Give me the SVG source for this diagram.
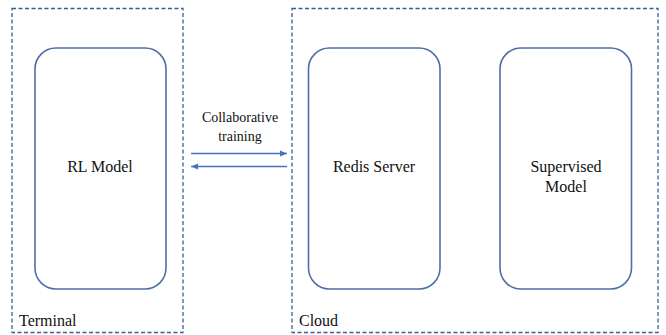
<svg xmlns="http://www.w3.org/2000/svg" width="666" height="335" viewBox="0 0 666 335">
<defs>
<style>
.grp{fill:none;stroke:#3A5C9A;stroke-width:1.3;stroke-dasharray:4 2.5}
.node{fill:#fff;stroke:#4F6EA8;stroke-width:1.6}
.t{font-family:'Liberation Serif','Times New Roman',serif;fill:#111;text-anchor:middle}
.lbl{font-family:'Liberation Serif','Times New Roman',serif;fill:#111;font-size:16px}
.edge{stroke:#4472C4;stroke-width:1.3;fill:none}
</style>
<marker id="ah" markerWidth="8" markerHeight="8" refX="7" refY="4" orient="auto" markerUnits="userSpaceOnUse">
<path d="M0,1 L7,4 L0,7 Z" fill="#4472C4"/>
</marker>
</defs>
<rect width="666" height="335" fill="#fff"/>
<g id="terminal">
<rect class="grp" x="12" y="8.5" width="171" height="324"/>
<text class="lbl" x="19" y="326">Terminal</text>
</g>
<g id="cloud">
<rect class="grp" x="292" y="8.5" width="366" height="324"/>
<text class="lbl" x="299" y="326">Cloud</text>
</g>
<g id="rl-model">
<rect class="node" x="35" y="48" width="131" height="241" rx="21"/>
<text class="t" x="100" y="172" font-size="16">RL Model</text>
</g>
<g id="redis-server">
<rect class="node" x="308.5" y="48" width="131.5" height="241" rx="21"/>
<text class="t" x="374" y="172" font-size="16">Redis Server</text>
</g>
<g id="supervised-model">
<rect class="node" x="500" y="48" width="131.5" height="241" rx="21"/>
<text class="t" x="566" y="172" font-size="16">Supervised</text>
<text class="t" x="566" y="192" font-size="16">Model</text>
</g>
<g id="connectors">
<line class="edge" x1="191" y1="153.5" x2="287" y2="153.5" marker-end="url(#ah)"/>
<line class="edge" x1="287" y1="166.5" x2="191" y2="166.5" marker-end="url(#ah)"/>
<text class="t" x="240" y="122" font-size="14">Collaborative</text>
<text class="t" x="240" y="141" font-size="14">training</text>
</g>
</svg>
